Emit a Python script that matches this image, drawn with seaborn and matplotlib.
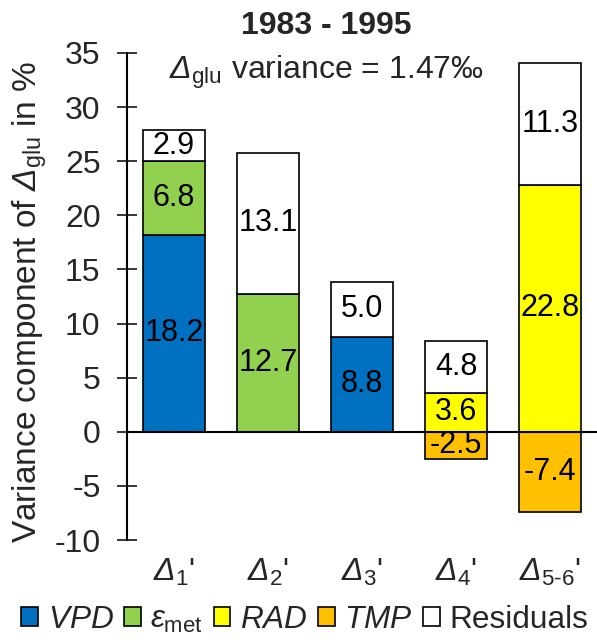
import matplotlib
matplotlib.use("Agg")
import matplotlib.pyplot as plt
import seaborn as sns
import numpy as np
import pandas as pd
from matplotlib.patches import Patch

categories = ["D1", "D2", "D3", "D4", "D56"]
tick_labels = [r"$\mathsf{\Delta}_{1}$'", r"$\mathsf{\Delta}_{2}$'", r"$\mathsf{\Delta}_{3}$'",
               r"$\mathsf{\Delta}_{4}$'", r"$\mathsf{\Delta}_{5\text{-}6}$'"]
vpd = [18.2, 0.0, 8.8, 0.0, 0.0]
eps_met = [6.8, 12.7, 0.0, 0.0, 0.0]
rad = [0.0, 0.0, 0.0, 3.6, 22.8]
tmp = [0.0, 0.0, 0.0, -2.5, -7.4]
residuals = [2.9, 13.1, 5.0, 4.8, 11.3]

components = [
    ("VPD", vpd, "#0070C0", r"$\mathit{VPD}$"),
    ("eps", eps_met, "#92D050", r"$\mathit{\varepsilon}_{\mathrm{met}}$"),
    ("RAD", rad, "#FFFF00", r"$\mathit{RAD}$"),
    ("TMP", tmp, "#FFC000", r"$\mathit{TMP}$"),
    ("Res", residuals, "#FFFFFF", "Residuals"),
]

sns.set_theme(style="white")
plt.rcParams["font.family"] = ["Liberation Sans", "DejaVu Sans"]
plt.rcParams["mathtext.fontset"] = "custom"
plt.rcParams["mathtext.rm"] = "Liberation Sans"
plt.rcParams["mathtext.it"] = "Liberation Sans:italic"
plt.rcParams["mathtext.sf"] = "Liberation Sans:italic"
plt.rcParams["mathtext.bf"] = "Liberation Sans:bold"
FS_BAR = 22
FS = 23

fig = plt.figure(figsize=(5.97, 6.42), dpi=100)
ax = fig.add_axes([127/597, 1-540/642, 470/597, (540-53)/642])

pos_bottom = np.zeros(len(categories))
for key, vals, color, label in components:
    vals = np.array(vals)
    mask = vals != 0
    if key == "TMP":
        bottoms = np.zeros(len(categories))
    else:
        bottoms = pos_bottom.copy()
    df = pd.DataFrame({"cat": np.array(categories)[mask], "val": vals[mask]})
    sns.barplot(data=df, x="cat", y="val", order=categories, color=color,
                saturation=1, edgecolor="black", linewidth=1.2, width=0.67,
                bottom=bottoms[mask], ax=ax)
    for i in np.where(mask)[0]:
        ax.text(i, bottoms[i] + vals[i] / 2, f"{vals[i]:.1f}", ha="center", va="center",
                fontsize=FS_BAR, color="black")
    if key != "TMP":
        pos_bottom = pos_bottom + vals

ax.set_xlim(-0.5, 4.5)
ax.set_ylim(-10, 35)
ax.set_yticks(np.arange(-10, 36, 5))
ax.set_yticklabels([str(v) for v in range(-10, 36, 5)], fontsize=FS)
ax.set_xticks(range(len(categories)))
ax.set_xticklabels(tick_labels, fontsize=FS)
ax.tick_params(axis="x", length=0, pad=12)
ax.tick_params(axis="y", direction="inout", length=14, width=1.3, pad=12, left=True)
ax.set_xlabel("")
ax.set_ylabel(r"Variance component of $\mathsf{\Delta}_{\mathrm{glu}}$ in %", fontsize=24)
ax.yaxis.set_label_coords(-0.165, 0.49)
for s in ["top", "right", "bottom"]:
    ax.spines[s].set_visible(False)
ax.spines["left"].set_linewidth(1.5)
ax.spines["left"].set_color("black")
ax.axhline(0, color="black", lw=1.5, zorder=5)

fig.text(326/597, 1-26/642, "1983 - 1995", ha="center", va="center", fontsize=FS, fontweight="bold")
fig.text(326/597, 1-72/642, r"$\mathsf{\Delta}_{\mathrm{glu}}$ variance = 1.47‰", ha="center",
         va="center", fontsize=FS)

handles = [Patch(facecolor=c, edgecolor="black", linewidth=1.2) for _, _, c, _ in components]
labels = [l for _, _, _, l in components]
fig.legend(handles, labels, loc="center", bbox_to_anchor=(305/597, 1-620/642), ncol=5, frameon=False,
           fontsize=22.8, handlelength=0.53, handleheight=0.53, handletextpad=0.3,
           columnspacing=0.33, borderpad=0, borderaxespad=0)

fig.savefig("out.png", dpi=100)
